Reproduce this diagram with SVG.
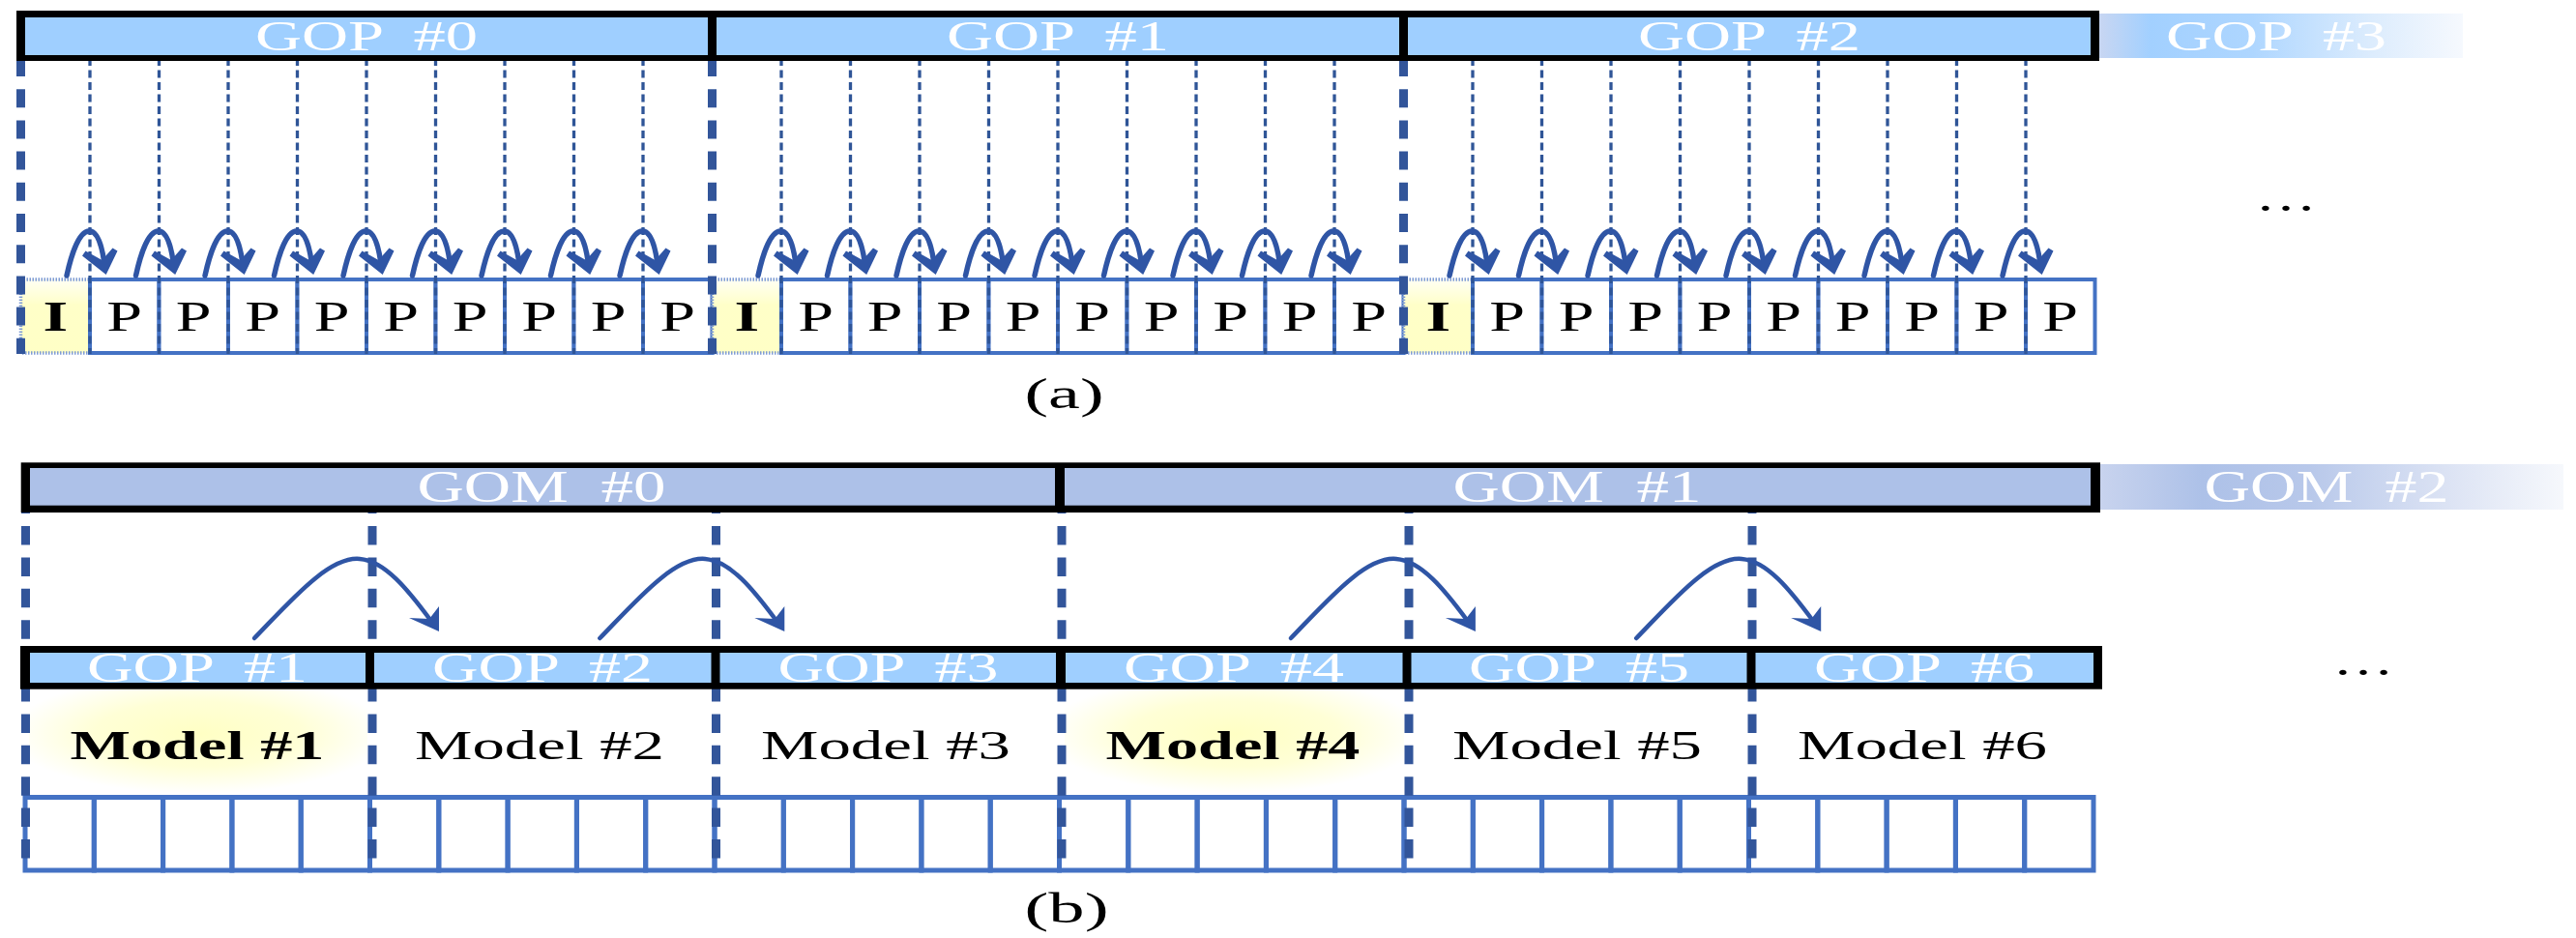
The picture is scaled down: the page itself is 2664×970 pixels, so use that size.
<svg xmlns="http://www.w3.org/2000/svg" width="2664" height="970" viewBox="0 0 2664 970">
<style>
text{font-family:"Liberation Serif","Times New Roman",serif;}
.bt{fill:#fff;font-size:45px;text-anchor:middle;word-spacing:11px;}
.gt{fill:#fff;font-size:47px;text-anchor:middle;word-spacing:12px;}
.fr{fill:#fff;stroke:#4472C4;stroke-width:4;}
.frb{fill:none;stroke:#4472C4;stroke-width:5;}
.fi{fill:url(#gI);stroke:#7F9CD4;stroke-width:3.5;stroke-dasharray:1.5 1.5;}
.thick{stroke:#32559A;stroke-width:9;stroke-dasharray:19 13.2;fill:none;}
.thickb{stroke:#32559A;stroke-width:9;stroke-dasharray:19.5 12.9;fill:none;}
.thin{stroke:#2F5597;stroke-width:3.3;stroke-dasharray:8 4.5;fill:none;}
.arr{stroke:#2F55A5;fill:none;stroke-width:5.5;stroke-linecap:round;}
.arrb{stroke:#2F55A5;fill:none;stroke-width:4.5;stroke-linecap:round;}
.hd{fill:#2F55A5;}
.lt{font-size:45px;text-anchor:middle;fill:#000;}
.md{font-size:43px;text-anchor:middle;fill:#000;}
.blk{fill:#000;}
.gop{fill:#9FCFFF;}
.gom{fill:#ADC1E8;}
</style>
<defs>
<linearGradient id="gI" x1="0" y1="0" x2="0" y2="1">
<stop offset="0" stop-color="#FFFFF4"/><stop offset="0.35" stop-color="#FFFFC8"/><stop offset="1" stop-color="#FFFFC6"/>
</linearGradient>
<radialGradient id="glow" cx="0.5" cy="0.42" r="0.56">
<stop offset="0" stop-color="#FFFFC4"/><stop offset="0.55" stop-color="#FFFFD6"/><stop offset="1" stop-color="#FFFFFF"/>
</radialGradient>
<linearGradient id="g3" x1="0" y1="0" x2="1" y2="0">
<stop offset="0" stop-color="#C8D6F2"/><stop offset="0.14" stop-color="#A2D0FF"/><stop offset="0.42" stop-color="#AED6FF"/><stop offset="0.75" stop-color="#DCECFD"/><stop offset="1" stop-color="#F6F9FE"/>
</linearGradient>
<linearGradient id="gm2" x1="0" y1="0" x2="1" y2="0">
<stop offset="0" stop-color="#C8D3EE"/><stop offset="0.22" stop-color="#ADC1E8"/><stop offset="0.45" stop-color="#B8C8EA"/><stop offset="0.75" stop-color="#DCE3F4"/><stop offset="1" stop-color="#F6F8FC"/>
</linearGradient>
<g id="arrA">
<path class="arr" d="M-24 285 C-19 262 -11 238 0 239 C9 240 13 258 15 273"/>
<polygon class="hd" points="16.7,284 -8,264.5 -4.5,259.5 12.5,269 23.5,256.5 28.5,259.5"/>
</g>
<g id="arrB">
<path class="arrb" d="M263 660 C300 622 340 575 372 578 C398 580 422 610 445 641"/>
<polygon class="hd" points="454,653 423,639 444,640 454,627"/>
</g>
</defs>
<rect width="2664" height="970" fill="#fff"/>

<!-- (a) frames -->
<g id="a-gop0-frames">
<rect class="fi" x="21.5" y="289" width="71.5" height="76"/>
<rect class="fr" x="93" y="289" width="71.5" height="76"/><rect class="fr" x="164.5" y="289" width="71.5" height="76"/>
<rect class="fr" x="236" y="289" width="71.5" height="76"/><rect class="fr" x="307.5" y="289" width="71.5" height="76"/>
<rect class="fr" x="379" y="289" width="71.5" height="76"/><rect class="fr" x="450.5" y="289" width="71.5" height="76"/>
<rect class="fr" x="522" y="289" width="71.5" height="76"/><rect class="fr" x="593.5" y="289" width="71.5" height="76"/>
<rect class="fr" x="665" y="289" width="71.5" height="76"/>
</g>
<g id="a-gop1-frames">
<rect class="fi" x="736.5" y="289" width="71.5" height="76"/>
<rect class="fr" x="808" y="289" width="71.5" height="76"/><rect class="fr" x="879.5" y="289" width="71.5" height="76"/>
<rect class="fr" x="951" y="289" width="71.5" height="76"/><rect class="fr" x="1022.5" y="289" width="71.5" height="76"/>
<rect class="fr" x="1094" y="289" width="71.5" height="76"/><rect class="fr" x="1165.5" y="289" width="71.5" height="76"/>
<rect class="fr" x="1237" y="289" width="71.5" height="76"/><rect class="fr" x="1308.5" y="289" width="71.5" height="76"/>
<rect class="fr" x="1380" y="289" width="71.5" height="76"/>
</g>
<g id="a-gop2-frames">
<rect class="fi" x="1451.5" y="289" width="71.5" height="76"/>
<rect class="fr" x="1523" y="289" width="71.5" height="76"/><rect class="fr" x="1594.5" y="289" width="71.5" height="76"/>
<rect class="fr" x="1666" y="289" width="71.5" height="76"/><rect class="fr" x="1737.5" y="289" width="71.5" height="76"/>
<rect class="fr" x="1809" y="289" width="71.5" height="76"/><rect class="fr" x="1880.5" y="289" width="71.5" height="76"/>
<rect class="fr" x="1952" y="289" width="71.5" height="76"/><rect class="fr" x="2023.5" y="289" width="71.5" height="76"/>
<rect class="fr" x="2095" y="289" width="71.5" height="76"/>
</g>

<!-- (b) glow + frames -->
<g id="b-glow">
<rect x="30" y="713" width="350" height="110" fill="url(#glow)"/>
<rect x="1101" y="713" width="351" height="110" fill="url(#glow)"/>
</g>
<g id="b-frames">
<rect class="frb" x="26" y="824.5" width="71.3" height="75.5"/><rect class="frb" x="97.3" y="824.5" width="71.3" height="75.5"/>
<rect class="frb" x="168.6" y="824.5" width="71.3" height="75.5"/><rect class="frb" x="239.9" y="824.5" width="71.3" height="75.5"/>
<rect class="frb" x="311.2" y="824.5" width="71.3" height="75.5"/><rect class="frb" x="382.5" y="824.5" width="71.3" height="75.5"/>
<rect class="frb" x="453.8" y="824.5" width="71.3" height="75.5"/><rect class="frb" x="525.1" y="824.5" width="71.3" height="75.5"/>
<rect class="frb" x="596.4" y="824.5" width="71.3" height="75.5"/><rect class="frb" x="667.7" y="824.5" width="71.3" height="75.5"/>
<rect class="frb" x="739" y="824.5" width="71.3" height="75.5"/><rect class="frb" x="810.3" y="824.5" width="71.3" height="75.5"/>
<rect class="frb" x="881.6" y="824.5" width="71.3" height="75.5"/><rect class="frb" x="952.9" y="824.5" width="71.3" height="75.5"/>
<rect class="frb" x="1024.2" y="824.5" width="71.3" height="75.5"/><rect class="frb" x="1095.5" y="824.5" width="71.3" height="75.5"/>
<rect class="frb" x="1166.8" y="824.5" width="71.3" height="75.5"/><rect class="frb" x="1238.1" y="824.5" width="71.3" height="75.5"/>
<rect class="frb" x="1309.4" y="824.5" width="71.3" height="75.5"/><rect class="frb" x="1380.7" y="824.5" width="71.3" height="75.5"/>
<rect class="frb" x="1452" y="824.5" width="71.3" height="75.5"/><rect class="frb" x="1523.3" y="824.5" width="71.3" height="75.5"/>
<rect class="frb" x="1594.6" y="824.5" width="71.3" height="75.5"/><rect class="frb" x="1665.9" y="824.5" width="71.3" height="75.5"/>
<rect class="frb" x="1737.2" y="824.5" width="71.3" height="75.5"/><rect class="frb" x="1808.5" y="824.5" width="71.3" height="75.5"/>
<rect class="frb" x="1879.8" y="824.5" width="71.3" height="75.5"/><rect class="frb" x="1951.1" y="824.5" width="71.3" height="75.5"/>
<rect class="frb" x="2022.4" y="824.5" width="71.3" height="75.5"/><rect class="frb" x="2093.7" y="824.5" width="71.3" height="75.5"/>
</g>

<!-- connectors: dashed guides and arrows -->
<g id="connectors">
<path class="thick" d="M21.5 60V366M736.5 60V366M1451.5 60V366"/>
<path class="thin" d="M93 60V366M164.5 60V366M236 60V366M307.5 60V366M379 60V366M450.5 60V366M522 60V366M593.5 60V366M665 60V366M808 60V366M879.5 60V366M951 60V366M1022.5 60V366M1094 60V366M1165.5 60V366M1237 60V366M1308.5 60V366M1380 60V366M1523 60V366M1594.5 60V366M1666 60V366M1737.5 60V366M1809 60V366M1880.5 60V366M1952 60V366M2023.5 60V366M2095 60V366"/>
<path class="thickb" d="M26.5 511.6V888M385 511.6V888M740.5 511.6V888M1098 511.6V888M1457 511.6V888M1812 511.6V888"/>
<use href="#arrA" x="93"/><use href="#arrA" x="164.5"/><use href="#arrA" x="236"/><use href="#arrA" x="307.5"/><use href="#arrA" x="379"/><use href="#arrA" x="450.5"/><use href="#arrA" x="522"/><use href="#arrA" x="593.5"/><use href="#arrA" x="665"/>
<use href="#arrA" x="808"/><use href="#arrA" x="879.5"/><use href="#arrA" x="951"/><use href="#arrA" x="1022.5"/><use href="#arrA" x="1094"/><use href="#arrA" x="1165.5"/><use href="#arrA" x="1237"/><use href="#arrA" x="1308.5"/><use href="#arrA" x="1380"/>
<use href="#arrA" x="1523"/><use href="#arrA" x="1594.5"/><use href="#arrA" x="1666"/><use href="#arrA" x="1737.5"/><use href="#arrA" x="1809"/><use href="#arrA" x="1880.5"/><use href="#arrA" x="1952"/><use href="#arrA" x="2023.5"/><use href="#arrA" x="2095"/>
<use href="#arrB" x="0"/><use href="#arrB" x="357.3"/><use href="#arrB" x="1071.9"/><use href="#arrB" x="1429.2"/>
</g>

<!-- (a) GOP bar -->
<g id="a-gop-bar">
<rect class="blk" x="17" y="11" width="2154" height="52"/>
<rect class="gop" x="26" y="18" width="706" height="39"/>
<rect class="gop" x="741" y="18" width="706" height="39"/>
<rect class="gop" x="1456" y="18" width="706" height="39"/>
<text class="bt" x="379" y="52" textLength="230" lengthAdjust="spacingAndGlyphs">GOP #0</text>
<text class="bt" x="1094" y="52" textLength="230" lengthAdjust="spacingAndGlyphs">GOP #1</text>
<text class="bt" x="1809" y="52" textLength="230" lengthAdjust="spacingAndGlyphs">GOP #2</text>
</g>
<g id="a-gop3">
<rect x="2171" y="14" width="376" height="46" fill="url(#g3)"/>
<text class="bt" x="2354" y="52" textLength="228" lengthAdjust="spacingAndGlyphs">GOP #3</text>
</g>

<!-- (a) frame letters -->
<g id="a-letters" class="lt">
<text x="57.25" y="342" font-weight="bold" textLength="25.7" lengthAdjust="spacingAndGlyphs">I</text>
<text x="128.75" y="342" textLength="36.8" lengthAdjust="spacingAndGlyphs">P</text>
<text x="200.25" y="342" textLength="36.8" lengthAdjust="spacingAndGlyphs">P</text>
<text x="271.75" y="342" textLength="36.8" lengthAdjust="spacingAndGlyphs">P</text>
<text x="343.25" y="342" textLength="36.8" lengthAdjust="spacingAndGlyphs">P</text>
<text x="414.75" y="342" textLength="36.8" lengthAdjust="spacingAndGlyphs">P</text>
<text x="486.25" y="342" textLength="36.8" lengthAdjust="spacingAndGlyphs">P</text>
<text x="557.75" y="342" textLength="36.8" lengthAdjust="spacingAndGlyphs">P</text>
<text x="629.25" y="342" textLength="36.8" lengthAdjust="spacingAndGlyphs">P</text>
<text x="700.75" y="342" textLength="36.8" lengthAdjust="spacingAndGlyphs">P</text>
<text x="772.25" y="342" font-weight="bold" textLength="25.7" lengthAdjust="spacingAndGlyphs">I</text>
<text x="843.75" y="342" textLength="36.8" lengthAdjust="spacingAndGlyphs">P</text>
<text x="915.25" y="342" textLength="36.8" lengthAdjust="spacingAndGlyphs">P</text>
<text x="986.75" y="342" textLength="36.8" lengthAdjust="spacingAndGlyphs">P</text>
<text x="1058.25" y="342" textLength="36.8" lengthAdjust="spacingAndGlyphs">P</text>
<text x="1129.75" y="342" textLength="36.8" lengthAdjust="spacingAndGlyphs">P</text>
<text x="1201.25" y="342" textLength="36.8" lengthAdjust="spacingAndGlyphs">P</text>
<text x="1272.75" y="342" textLength="36.8" lengthAdjust="spacingAndGlyphs">P</text>
<text x="1344.25" y="342" textLength="36.8" lengthAdjust="spacingAndGlyphs">P</text>
<text x="1415.75" y="342" textLength="36.8" lengthAdjust="spacingAndGlyphs">P</text>
<text x="1487.25" y="342" font-weight="bold" textLength="25.7" lengthAdjust="spacingAndGlyphs">I</text>
<text x="1558.75" y="342" textLength="36.8" lengthAdjust="spacingAndGlyphs">P</text>
<text x="1630.25" y="342" textLength="36.8" lengthAdjust="spacingAndGlyphs">P</text>
<text x="1701.75" y="342" textLength="36.8" lengthAdjust="spacingAndGlyphs">P</text>
<text x="1773.25" y="342" textLength="36.8" lengthAdjust="spacingAndGlyphs">P</text>
<text x="1844.75" y="342" textLength="36.8" lengthAdjust="spacingAndGlyphs">P</text>
<text x="1916.25" y="342" textLength="36.8" lengthAdjust="spacingAndGlyphs">P</text>
<text x="1987.75" y="342" textLength="36.8" lengthAdjust="spacingAndGlyphs">P</text>
<text x="2059.25" y="342" textLength="36.8" lengthAdjust="spacingAndGlyphs">P</text>
<text x="2130.75" y="342" textLength="36.8" lengthAdjust="spacingAndGlyphs">P</text>
</g>
<g id="a-more"><text class="lt" x="2364" y="218" font-size="43" textLength="63" lengthAdjust="spacingAndGlyphs">…</text></g>
<g id="a-caption"><text class="lt" x="1100.5" y="422" textLength="82" lengthAdjust="spacingAndGlyphs">(a)</text></g>

<!-- (b) GOM bar -->
<g id="b-gom-bar">
<rect class="blk" x="21.7" y="478.3" width="2150.3" height="51.7"/>
<rect class="gom" x="31" y="484" width="1060" height="38.7"/>
<rect class="gom" x="1101" y="484" width="1061" height="38.7"/>
<text class="gt" x="560" y="519" textLength="257" lengthAdjust="spacingAndGlyphs">GOM #0</text>
<text class="gt" x="1631" y="519" textLength="257" lengthAdjust="spacingAndGlyphs">GOM #1</text>
</g>
<g id="b-gom2">
<rect x="2172" y="480" width="479" height="47" fill="url(#gm2)"/>
<text class="gt" x="2406" y="519" textLength="253" lengthAdjust="spacingAndGlyphs">GOM #2</text>
</g>

<!-- (b) GOP bar -->
<g id="b-gop-bar">
<rect class="blk" x="21" y="668" width="2153" height="44.7"/>
<rect class="gop" x="31" y="675" width="347" height="31"/>
<rect class="gop" x="387" y="675" width="348.5" height="31"/>
<rect class="gop" x="744.5" y="675" width="347.5" height="31"/>
<rect class="gop" x="1102" y="675" width="348.5" height="31"/>
<rect class="gop" x="1459.5" y="675" width="347" height="31"/>
<rect class="gop" x="1815.5" y="675" width="349.5" height="31"/>
<text class="bt" x="204" y="705" textLength="228" lengthAdjust="spacingAndGlyphs">GOP #1</text>
<text class="bt" x="561" y="705" textLength="228" lengthAdjust="spacingAndGlyphs">GOP #2</text>
<text class="bt" x="918.5" y="705" textLength="228" lengthAdjust="spacingAndGlyphs">GOP #3</text>
<text class="bt" x="1276" y="705" textLength="228" lengthAdjust="spacingAndGlyphs">GOP #4</text>
<text class="bt" x="1633" y="705" textLength="228" lengthAdjust="spacingAndGlyphs">GOP #5</text>
<text class="bt" x="1990" y="705" textLength="228" lengthAdjust="spacingAndGlyphs">GOP #6</text>
</g>

<!-- (b) model labels -->
<g id="b-models" class="md">
<text x="204" y="785" font-weight="bold" textLength="263" lengthAdjust="spacingAndGlyphs">Model #1</text>
<text x="558" y="785" textLength="258" lengthAdjust="spacingAndGlyphs">Model #2</text>
<text x="916" y="785" textLength="258" lengthAdjust="spacingAndGlyphs">Model #3</text>
<text x="1275" y="785" font-weight="bold" textLength="263" lengthAdjust="spacingAndGlyphs">Model #4</text>
<text x="1631" y="785" textLength="258" lengthAdjust="spacingAndGlyphs">Model #5</text>
<text x="1988" y="785" textLength="258" lengthAdjust="spacingAndGlyphs">Model #6</text>
</g>
<g id="b-more"><text class="lt" x="2444" y="698" font-size="43" textLength="63" lengthAdjust="spacingAndGlyphs">…</text></g>
<g id="b-caption"><text class="lt" x="1103" y="954" textLength="87" lengthAdjust="spacingAndGlyphs">(b)</text></g>
</svg>
